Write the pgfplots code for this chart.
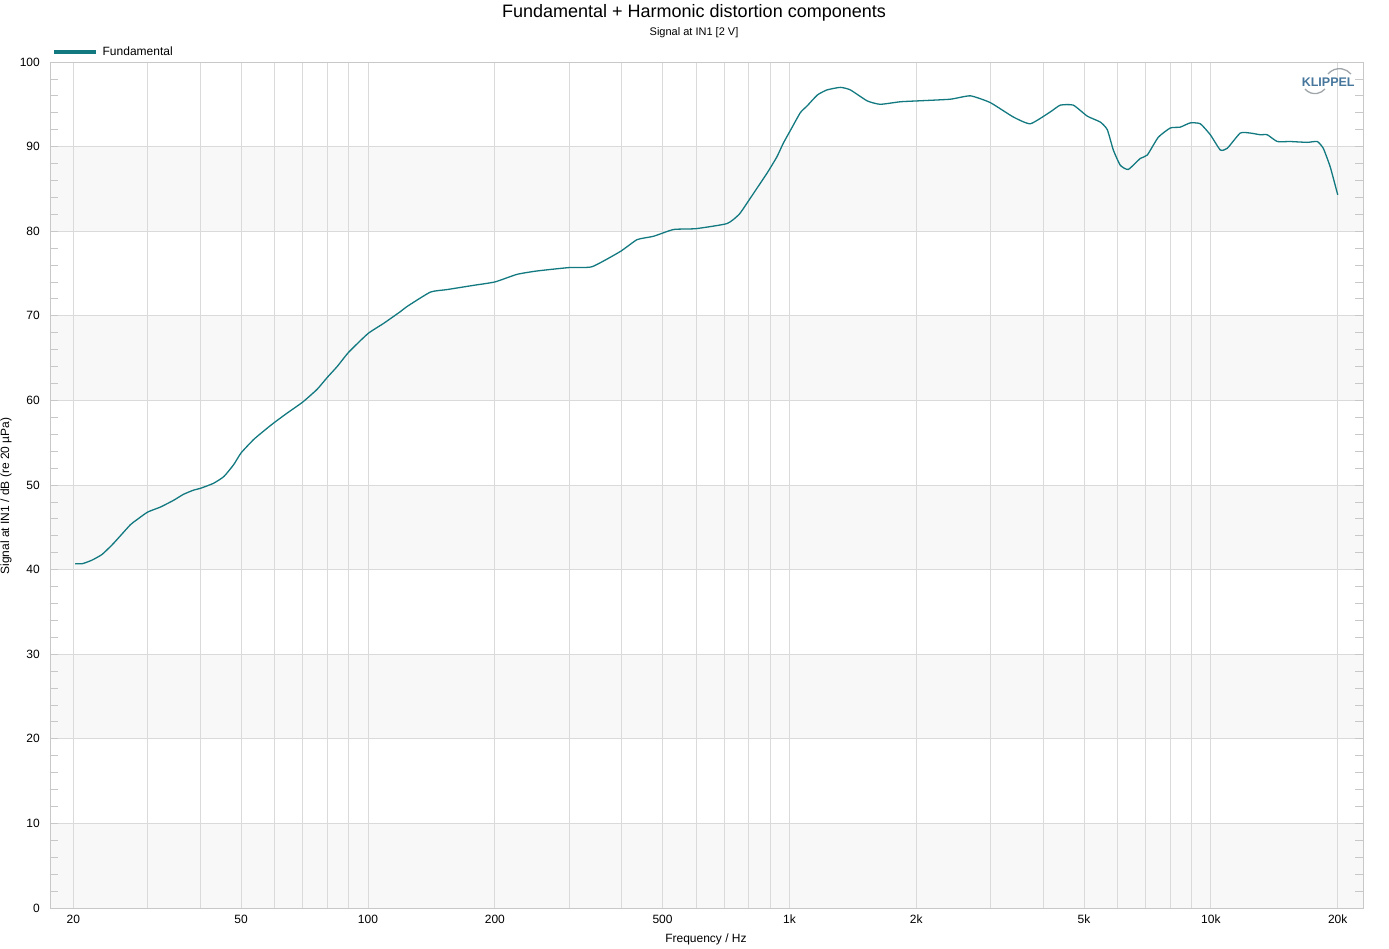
\documentclass[border=0pt]{standalone}
\usepackage{pgfplots}
\pgfplotsset{compat=1.18}
\usepackage{fontspec}
\setmainfont{Liberation Sans}
\definecolor{curve}{RGB}{18,121,128}
\definecolor{gridc}{RGB}{218,218,218}
\definecolor{bandc}{RGB}{248,248,248}
\definecolor{axisc}{RGB}{200,200,200}
\definecolor{logoc}{RGB}{70,118,156}
\definecolor{logoarc}{RGB}{160,165,170}

\pgfplotstableread{
f    db
20.2 40.7
21.0 40.7
22.1 41.1
23.4 41.8
24.9 43.1
27.3 45.3
28.3 45.9
30   46.8
32.2 47.4
34.6 48.2
36.5 48.9
38.6 49.4
40   49.6
43.0 50.2
45.5 51.0
48.0 52.4
50   53.8
53.6 55.4
57.6 56.7
60   57.4
64.3 58.5
70   59.8
75.7 61.3
80   62.7
84.5 64.0
90   65.7
100  67.9
108.9 69.1
119.4 70.5
123.8 71.1
140.6 72.8
154.1 73.1
178.1 73.6
200  74.0
225.8 74.9
251.9 75.3
300  75.7
340.1 75.8
397  77.6
435  79.0
476  79.4
531  80.2
600  80.3
711  80.9
760  82.0
800  83.6
838  85.1
886  86.9
934  88.8
967  90.4
1005 91.9
1061 94.0
1101 94.8
1165 96.1
1228 96.7
1321 97.0
1395 96.7
1530 95.4
1642 95.0
1833 95.3
2011 95.4
2408 95.6
2687 96.0
2996 95.2
3398 93.5
3729 92.7
4159 94.1
4393 94.9
4716 94.9
5090 93.6
5466 92.9
5678 92.0
5868 89.6
6096 87.8
6368 87.3
6800 88.6
7065 89.0
7502 91.1
8012 92.2
8458 92.3
8933 92.8
9437 92.7
9969 91.4
10528 89.6
10938 89.8
11741 91.6
12400 91.6
13097 91.4
13606 91.4
14372 90.6
15430 90.6
16930 90.5
17882 90.6
18478 89.8
19196 87.6
20000 84.3
}\fundamental

\begin{document}
\begin{tikzpicture}
\begin{axis}[
  set layers,
  clip mode=individual,
  scale only axis,
  width=1313pt, height=846pt,
  xmode=log,
  xmin=17.6, xmax=22960,
  ymin=0, ymax=100,
  xtick={20,50,100,200,500,1000,2000,5000,10000,20000},
  xticklabels={20,50,100,200,500,1k,2k,5k,10k,20k},
  minor xtick={30,40,60,70,80,90,300,400,600,700,800,900,3000,4000,6000,7000,8000,9000},
  ytick={0,10,...,100},
  minor ytick={2,4,...,98},
  xmajorgrids, xminorgrids, ymajorgrids,
  major grid style={gridc, line width=0.8pt},
  minor grid style={gridc, line width=0.8pt},
  axis line style={axisc, line width=0.8pt},
  tick align=inside,
  major tick length=0pt,
  minor tick length=8pt,
  xtick style={draw=none},
  every minor y tick/.append style={axisc, line width=0.8pt},
  /pgf/number format/assume math mode=true,
  ticklabel style={font=\fontsize{12}{14}\selectfont, text=black},
  yticklabel style={inner sep=0pt, xshift=-10pt},
  xticklabel style={inner sep=0pt, yshift=-7pt},
  xlabel={Frequency / Hz},
  ylabel={Signal at IN1 / dB (re 20 µPa)},
  label style={font=\fontsize{12}{14}\selectfont},
  xlabel style={at={(axis description cs:0.4996,-0.0366)}, anchor=center},
  ylabel style={at={(axis description cs:-0.0335,0.487)}, anchor=center},
  legend style={at={(axis description cs:0.0015,1.0118)}, anchor=west,
    draw=none, fill=none, inner sep=0pt,
    font=\fontsize{12}{14}\selectfont,
    nodes={inner xsep=5pt}},
  legend image code/.code={\draw[#1, line width=3.5pt] (0pt,0pt) -- (42pt,0pt);},
  legend cell align=left,
]
\begin{pgfonlayer}{axis background}
\fill[bandc] (rel axis cs:0,0.8) rectangle (rel axis cs:1,0.9);
\fill[bandc] (rel axis cs:0,0.6) rectangle (rel axis cs:1,0.7);
\fill[bandc] (rel axis cs:0,0.4) rectangle (rel axis cs:1,0.5);
\fill[bandc] (rel axis cs:0,0.2) rectangle (rel axis cs:1,0.3);
\fill[bandc] (rel axis cs:0,0.0) rectangle (rel axis cs:1,0.1);
\end{pgfonlayer}
\addplot[curve, line width=1.3pt, smooth, tension=0.3] table[x=f, y=db] {\fundamental};
\addlegendentry{Fundamental}
\node[font=\bfseries\fontsize{12.5}{15}\selectfont, text=logoc] at (rel axis cs:0.9735,0.976) {KLIPPEL};
\draw[logoarc, line width=1.3pt] (rel axis cs:0.9733,0.9858) arc[start angle=140, end angle=40, radius=15pt];
\draw[logoarc, line width=1.3pt] (rel axis cs:0.9558,0.9681) arc[start angle=-140, end angle=-40, radius=13pt];
\node[font=\fontsize{18}{21}\selectfont] at (axis description cs:0.4905,1.058) {Fundamental + Harmonic distortion components};
\node[font=\fontsize{11}{13}\selectfont] at (axis description cs:0.4905,1.0343) {Signal at IN1 [2 V]};
\end{axis}
\pgfresetboundingbox
\path[use as bounding box] (-50pt,-40pt) rectangle (1339pt,908pt);
\end{tikzpicture}
\end{document}
